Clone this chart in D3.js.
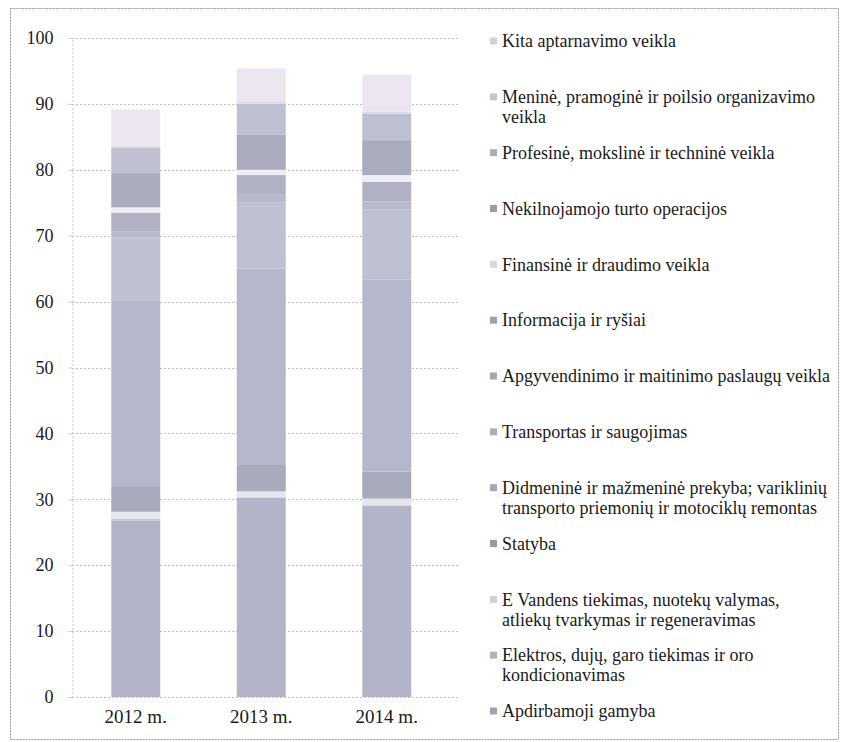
<!DOCTYPE html>
<html>
<head>
<meta charset="utf-8">
<script src="https://cdn.jsdelivr.net/npm/d3@7"></script>
<style>
  html, body { margin: 0; padding: 0; background: #fff; }
  svg { display: block; }
  svg text { font-family: "Liberation Serif", "Times New Roman", Tinos, "DejaVu Serif", serif; fill: #1a1a1a; }
</style>
</head>
<body>
<svg id="chart" width="841" height="742"></svg>
<script>
// ---- data ----
const years = ["2012 m.", "2013 m.", "2014 m."];
const yTicks = [0, 10, 20, 30, 40, 50, 60, 70, 80, 90, 100];
// series listed bottom-of-stack first
const seriesNames = [
  "Apdirbamoji gamyba",
  "Elektros, dujų, garo tiekimas ir oro kondicionavimas",
  "E Vandens tiekimas, nuotekų valymas, atliekų tvarkymas ir regeneravimas",
  "Statyba",
  "Didmeninė ir mažmeninė prekyba; variklinių transporto priemonių ir motociklų remontas",
  "Transportas ir saugojimas",
  "Apgyvendinimo ir maitinimo paslaugų veikla",
  "Informacija ir ryšiai",
  "Finansinė ir draudimo veikla",
  "Nekilnojamojo turto operacijos",
  "Profesinė, mokslinė ir techninė veikla",
  "Meninė, pramoginė ir poilsio organizavimo veikla",
  "Kita aptarnavimo veikla"
];
// legend lines (top to bottom order of legend)
const legendLines = [
  ["Kita aptarnavimo veikla"],
  ["Meninė, pramoginė ir poilsio organizavimo", "veikla"],
  ["Profesinė, mokslinė ir techninė veikla"],
  ["Nekilnojamojo turto operacijos"],
  ["Finansinė ir draudimo veikla"],
  ["Informacija ir ryšiai"],
  ["Apgyvendinimo ir maitinimo paslaugų veikla"],
  ["Transportas ir saugojimas"],
  ["Didmeninė ir mažmeninė prekyba; variklinių", "transporto priemonių ir motociklų remontas"],
  ["Statyba"],
  ["E Vandens tiekimas, nuotekų valymas,", "atliekų tvarkymas ir regeneravimas"],
  ["Elektros, dujų, garo tiekimas ir oro", "kondicionavimas"],
  ["Apdirbamoji gamyba"]
];
const apdirbamoji   = [26.8, 30.2, 29.0];
const elektros      = [0.3, 0.1, 0.1];
const vandens       = [1.0, 0.9, 1.0];
const statyba       = [3.9, 4.0, 4.1];
const prekyba       = [28.2, 29.8, 29.1];
const transportas   = [9.5, 10.0, 10.7];
const apgyvendinimo = [1.0, 1.2, 1.2];
const informacija   = [2.8, 3.0, 3.0];
const finansine     = [0.8, 0.8, 1.0];
const nekilnojamojo = [5.2, 5.3, 5.3];
const profesine     = [3.8, 4.7, 4.0];
const menine        = [0.3, 0.3, 0.3];
const kita          = [5.6, 5.1, 5.6];
const seriesValues = [apdirbamoji, elektros, vandens, statyba, prekyba, transportas,
  apgyvendinimo, informacija, finansine, nekilnojamojo, profesine, menine, kita];
const colors = ["#b3b4c8", "#c6c6d4", "#e6e6ee", "#a9aabb", "#b6b7ca", "#bfc0d1",
  "#b9b9cb", "#b0b1c3", "#eeeef4", "#aaabbd", "#bebfd0", "#dcdce8", "#ece6f1"];

// ---- build table ----
const table = years.map((y, i) => {
  const row = { year: y };
  seriesNames.forEach((s, k) => row[s] = seriesValues[k][i]);
  return row;
});
const stack = d3.stack().keys(seriesNames)(table);

const svg = d3.select("#chart");
const FONT = '"Liberation Serif", "Times New Roman", Tinos, "DejaVu Serif", serif';

// frame
svg.append("rect").attr("x", 10.5).attr("y", 8.5).attr("width", 828).attr("height", 731)
  .attr("fill", "none").attr("stroke", "#9a9a9a").attr("stroke-dasharray", "2,1");

const x = d3.scaleBand().domain(years).range([73, 449.5]).paddingInner(0.61).paddingOuter(0.305);
const y = d3.scaleLinear().domain([0, 100]).range([697, 38]);
const gridRight = 458;

// grid
svg.append("g").selectAll("line").data(yTicks).join("line")
  .attr("x1", 72).attr("x2", gridRight)
  .attr("y1", d => Math.round(y(d)) + 0.5).attr("y2", d => Math.round(y(d)) + 0.5)
  .attr("stroke", "#bdbdbd").attr("stroke-width", 1).attr("stroke-dasharray", "2,2");

// bars
svg.append("g").selectAll("g").data(stack).join("g")
  .attr("fill", (d, i) => colors[i])
  .selectAll("rect").data(d => d).join("rect")
  .attr("x", d => x(d.data.year))
  .attr("width", x.bandwidth())
  .attr("y", d => y(d[1]))
  .attr("height", d => y(d[0]) - y(d[1]));

// y axis
const yAxis = d3.axisLeft(y).tickValues(yTicks).tickSize(4).tickPadding(15);
const gy = svg.append("g").attr("transform", "translate(72.5,0)").call(yAxis)
  .attr("font-family", FONT);
gy.select(".domain").attr("stroke", "#c8c8c8").attr("stroke-dasharray", "2,2");
gy.selectAll(".tick line").attr("stroke", "#c8c8c8");
gy.selectAll(".tick text").attr("font-size", 18).attr("fill", "#1a1a1a");

// x axis labels
const xAxis = d3.axisBottom(x).tickSize(0).tickPadding(13);
const gx = svg.append("g").attr("transform", "translate(0,697)").call(xAxis)
  .attr("font-family", FONT);
gx.select(".domain").remove();
gx.selectAll(".tick text").attr("font-size", 19).attr("fill", "#1a1a1a");

// legend
const ly = d3.scalePoint().domain(d3.range(legendLines.length)).range([41, 711]);
const legendColors = colors.slice().reverse();
const lg = svg.append("g").selectAll("g").data(legendLines).join("g")
  .attr("transform", (d, i) => `translate(0,${ly(i)})`);
lg.append("rect").attr("x", 490).attr("y", -3.5).attr("width", 7).attr("height", 7)
  .attr("fill", (d, i) => d3.color(legendColors[i]).darker(0.3));
lg.selectAll("text").data(d => d).join("text")
  .attr("x", 502).attr("y", (d, j) => j * 20)
  .attr("dy", "0.35em")
  .attr("font-family", FONT)
  .attr("font-size", 18)
  .text(d => d);
</script>
</body>
</html>
